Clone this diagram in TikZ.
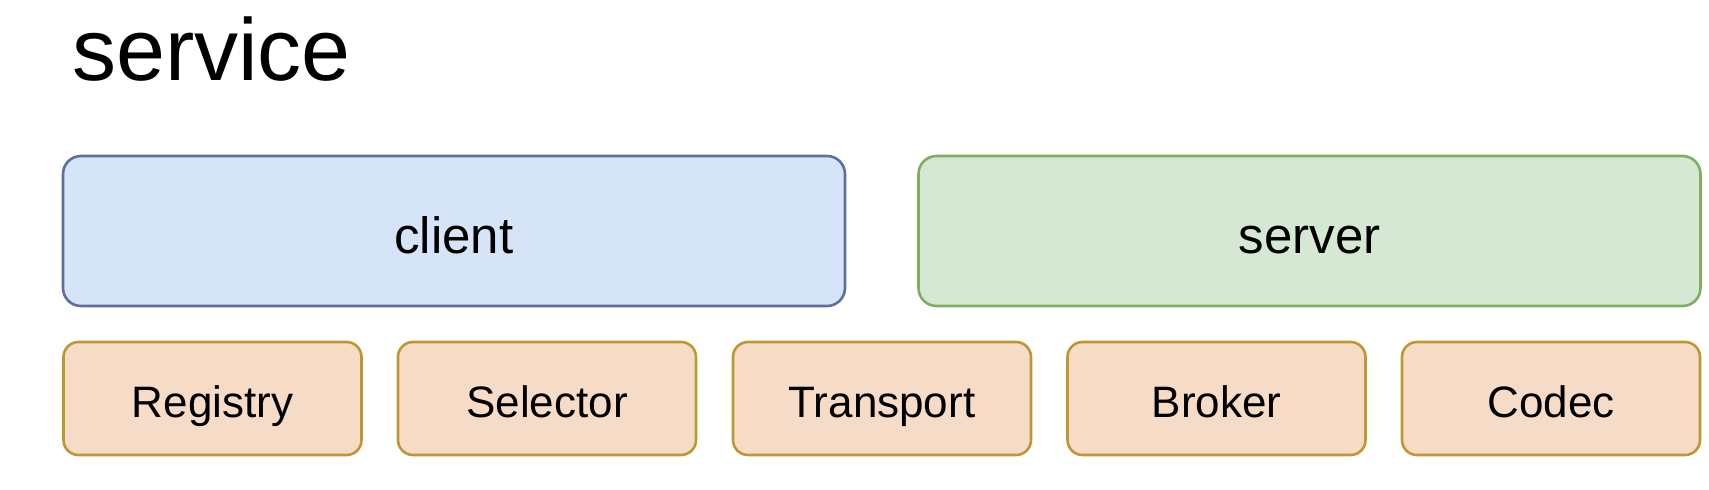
\documentclass[tikz,border=0pt]{standalone}
\usepackage{fontspec}
\setmainfont{Liberation Sans}
\usepackage{tikz}
\usetikzlibrary{positioning}

\definecolor{clientfill}{HTML}{D6E4F7}
\definecolor{clientline}{HTML}{5E6F9C}
\definecolor{serverfill}{HTML}{D5E8D4}
\definecolor{serverline}{HTML}{7FAE5F}
\definecolor{partfill}{HTML}{F6DCC6}
\definecolor{partline}{HTML}{BC9834}

\tikzset{
  bigbox/.style={draw, rounded corners=18pt, line width=2.6pt, minimum width=782pt,
    minimum height=150pt, inner sep=0pt, text height=44pt, text depth=0pt,
    font=\fontsize{51}{60}\selectfont},
  partbox/.style={draw=partline, fill=partfill, rounded corners=15pt, line width=2.6pt,
    minimum width=298pt, minimum height=113pt, inner sep=0pt, text height=38pt,
    text depth=0pt, font=\fontsize{44}{52}\selectfont}
}

\begin{document}
\begin{tikzpicture}[x=1pt, y=-1pt]
                \useasboundingbox (0, 0) rectangle (1709, 490);

                \node[anchor=base west, inner sep=0pt, font=\fontsize{88}{100}\selectfont] (title) at (72, 80) {service};

                \node[bigbox, draw=clientline, fill=clientfill] (client) at (454, 231) {client};
                \node[bigbox, draw=serverline, fill=serverfill] (server) at (1309.5, 231) {server};

                \node[partbox] (registry) at (212.5, 398.5) {Registry};
                \node[partbox] (selector) at (547, 398.5) {Selector};
                \node[partbox] (transport) at (882, 398.5) {Transport};
                \node[partbox] (broker) at (1216.5, 398.5) {Broker};
                \node[partbox] (codec) at (1551, 398.5) {Codec};
            \end{tikzpicture}
\end{document}
